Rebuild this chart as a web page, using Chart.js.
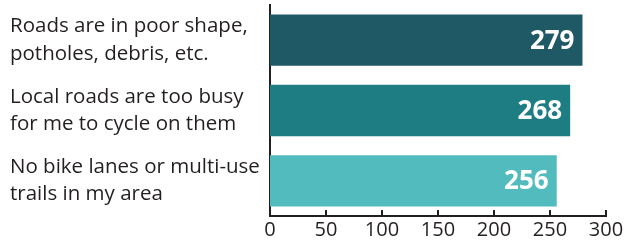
<!DOCTYPE html>
<html lang="en">
<head>
  <meta charset="UTF-8">
  <title>Cycling barriers</title>
  <script src="https://cdn.jsdelivr.net/npm/chart.js"></script>
  <style>
    html, body { margin: 0; padding: 0; background: #fff; }
    #wrap { width: 626px; height: 244px; }
  </style>
</head>
<body>
<div id="wrap"><canvas id="chart" width="626" height="244"></canvas></div>
<script>
const categories = [
  ["Roads are in poor shape,", "potholes, debris, etc."],
  ["Local roads are too busy", "for me to cycle on them"],
  ["No bike lanes or multi-use", "trails in my area"]
];
const values = [279, 268, 256];
const xTicks = [0, 50, 100, 150, 200, 250, 300];

const barColors = ['#1f5966', '#1e7d83', '#52bbbd'];
const ink = '#231f20';
const FONT = "'Open Sans', sans-serif";

// value labels at the right end of each bar
const valueLabels = {
  id: 'valueLabels',
  afterDatasetsDraw(chart) {
    const ctx = chart.ctx;
    const meta = chart.getDatasetMeta(0);
    ctx.save();
    ctx.fillStyle = '#fff';
    ctx.font = "bold 26px " + FONT;
    ctx.textAlign = 'right';
    ctx.textBaseline = 'middle';
    meta.data.forEach((bar, i) => {
      ctx.fillText(values[i], bar.x - 8, bar.y + 1);
    });
    ctx.restore();
  }
};

// small tick marks pointing up from the x axis
const innerTicks = {
  id: 'innerTicks',
  afterDraw(chart) {
    const ctx = chart.ctx;
    const x = chart.scales.x;
    ctx.save();
    ctx.strokeStyle = ink;
    ctx.lineWidth = 2;
    x.ticks.forEach((t, i) => {
      const px = Math.round(x.getPixelForTick(i));
      ctx.beginPath();
      ctx.moveTo(px, x.top);
      ctx.lineTo(px, x.top - 6);
      ctx.stroke();
    });
    ctx.restore();
  }
};

new Chart(document.getElementById('chart'), {
  type: 'bar',
  data: {
    labels: categories,
    datasets: [{
      data: values,
      backgroundColor: barColors,
      barPercentage: 0.73,
      categoryPercentage: 1
    }]
  },
  options: {
    indexAxis: 'y',
    responsive: false,
    animation: false,
    layout: { padding: { left: 10, top: 5, right: 20, bottom: 0 } },
    plugins: { legend: { display: false }, tooltip: { enabled: false } },
    scales: {
      x: {
        min: 0,
        max: 300,
        afterBuildTicks: s => { s.ticks = xTicks.map(v => ({ value: v })); },
        grid: { display: false, drawTicks: false },
        border: { display: true, color: ink, width: 2 },
        ticks: { color: ink, font: { family: FONT, size: 20 }, padding: 2, maxRotation: 0 },
        afterFit: s => { s.height = 28; }
      },
      y: {
        grid: { display: false, drawTicks: false },
        border: { display: true, color: ink, width: 2 },
        ticks: {
          color: ink,
          crossAlign: 'far',
          font: { family: FONT, size: 20.5, lineHeight: 1.32 }
        },
        afterFit: s => { s.width = 260; s.paddingTop = 0; s.paddingBottom = 0; }
      }
    }
  },
  plugins: [valueLabels, innerTicks]
});
</script>
</body>
</html>
